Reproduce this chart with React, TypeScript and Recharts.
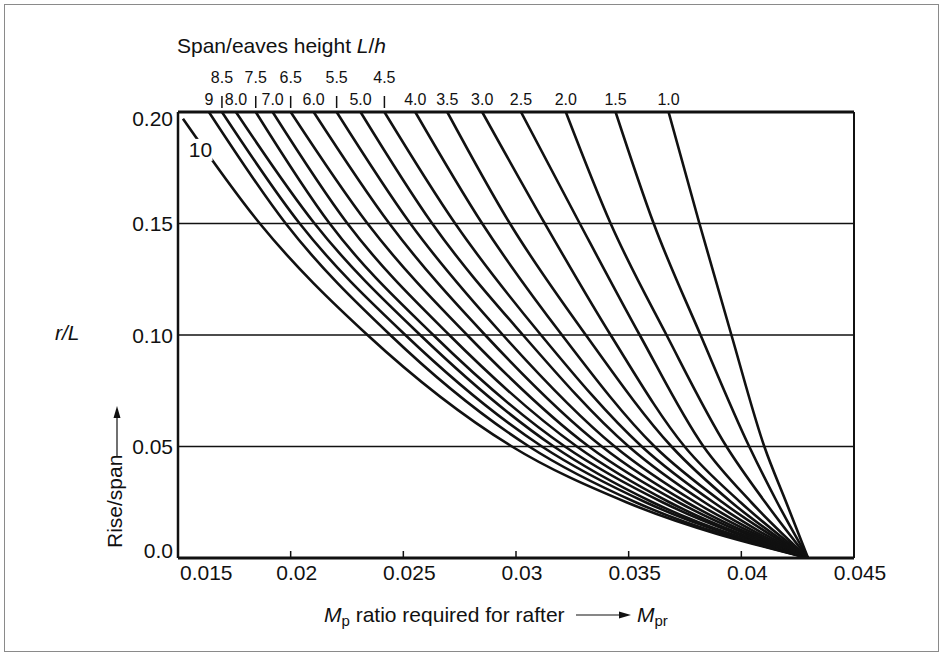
import React from 'react';
import { LineChart, Line, XAxis, YAxis, CartesianGrid, ReferenceLine, ReferenceDot } from 'recharts';

const FONT = '"Liberation Sans", Arial, Helvetica, sans-serif';
const INK = '#111';

// rise/span levels (r/L) at which the curves were read
const RISE = [0.2, 0.15, 0.1, 0.05, 0.025, 0];
// the L/h = 10 curve starts on the left axis, just below 0.20
const RISE_10 = [0.197, 0.15, 0.1, 0.05, 0.025, 0];

const LH_LABELS = ['10', '9', '8.5', '8.0', '7.5', '7.0', '6.5', '6.0', '5.5', '5.0', '4.5', '4.0', '3.5', '3.0', '2.5', '2.0', '1.5', '1.0'];
const UPPER_ROW = ['8.5', '7.5', '6.5', '5.5', '4.5'];

// Mp ratio required for rafter, one array per span/eaves height
const MP_10 = [0.01522, 0.01863, 0.02341, 0.02982, 0.0349, 0.04296];
const MP_9 = [0.01637, 0.01978, 0.02442, 0.03058, 0.03531, 0.04296];
const MP_85 = [0.01695, 0.0204, 0.02509, 0.03115, 0.03575, 0.04296];
const MP_80 = [0.01757, 0.02106, 0.02575, 0.03168, 0.03606, 0.04296];
const MP_75 = [0.01845, 0.02173, 0.02633, 0.03217, 0.0365, 0.04296];
const MP_70 = [0.0192, 0.02252, 0.02704, 0.0327, 0.03681, 0.04296];
const MP_65 = [0.02, 0.02341, 0.02783, 0.03323, 0.03721, 0.04296];
const MP_60 = [0.02102, 0.02438, 0.02863, 0.03381, 0.03757, 0.04296];
const MP_55 = [0.02204, 0.02531, 0.02942, 0.03438, 0.03796, 0.04296];
const MP_50 = [0.0231, 0.02628, 0.03031, 0.035, 0.03836, 0.04296];
const MP_45 = [0.02416, 0.0273, 0.03111, 0.03558, 0.03876, 0.04296];
const MP_40 = [0.02553, 0.0285, 0.03204, 0.03615, 0.03916, 0.04296];
const MP_35 = [0.02695, 0.02973, 0.0331, 0.0369, 0.03956, 0.04296];
const MP_30 = [0.0285, 0.03128, 0.0342, 0.03748, 0.03996, 0.04296];
const MP_25 = [0.03022, 0.03283, 0.03549, 0.03832, 0.04044, 0.04296];
const MP_20 = [0.03221, 0.0342, 0.03668, 0.03934, 0.04106, 0.04296];
const MP_15 = [0.03442, 0.03611, 0.03819, 0.04035, 0.04159, 0.04296];
const MP_10_0 = [0.03677, 0.03814, 0.03956, 0.04102, 0.04199, 0.04296];

const MP_BY_LH = [MP_10, MP_9, MP_85, MP_80, MP_75, MP_70, MP_65, MP_60, MP_55, MP_50, MP_45, MP_40, MP_35, MP_30, MP_25, MP_20, MP_15, MP_10_0];

const X_TICKS = [0.015, 0.02, 0.025, 0.03, 0.035, 0.04, 0.045];
const X_TICK_LABELS = ['0.015', '0.02', '0.025', '0.03', '0.035', '0.04', '0.045'];
const Y_TICKS = [0, 0.05, 0.1, 0.15, 0.2];
const Y_TICK_LABELS = ['0.0', '0.05', '0.10', '0.15', '0.20'];

const curves = LH_LABELS.map((lh, i) => ({
  lh,
  points: MP_BY_LH[i].map((x, j) => ({ x, y: (i === 0 ? RISE_10 : RISE)[j] })),
}));

// top scale: one tick per curve where it leaves the 0.20 line (10 is labelled inside)
const TOP_TICKS = MP_BY_LH.slice(1).map((arr) => arr[0]);
const TOP_LABELS = LH_LABELS.slice(1);
const topPoints = TOP_TICKS.map((x) => ({ x, y: 0.2 }));

const BottomTick = (props: any) => {
  const { x, y, payload } = props;
  const i = X_TICKS.indexOf(payload.value);
  const first = i === 0;
  const last = i === X_TICKS.length - 1;
  return (
    <g>
      {!first && !last && <line x1={x} x2={x} y1={y} y2={y - 7} stroke={INK} strokeWidth={1.5} />}
      <text x={first ? x + 2 : x + 6} y={y + 22} textAnchor={first ? 'start' : 'middle'} fontSize={21} fontFamily={FONT} fill={INK}>
        {X_TICK_LABELS[i]}
      </text>
    </g>
  );
};

const LeftTick = (props: any) => {
  const { x, y, payload } = props;
  const i = Y_TICKS.indexOf(payload.value);
  let dy = 7.5;
  if (i === 0) dy = -0.5;
  if (i === Y_TICKS.length - 1) dy = 14;
  return (
    <text x={x - 5} y={y + dy} textAnchor="end" fontSize={21} fontFamily={FONT} fill={INK}>
      {Y_TICK_LABELS[i]}
    </text>
  );
};

const TopTick = (props: any) => {
  const { x, y, payload } = props;
  let i = TOP_TICKS.indexOf(payload.value);
  if (i < 0) i = props.index;
  const label = TOP_LABELS[i];
  if (UPPER_ROW.includes(label)) {
    return (
      <g>
        <line x1={x} x2={x} y1={y - 16} y2={y - 4} stroke={INK} strokeWidth={1.5} />
        <text x={x} y={y - 29} textAnchor="middle" fontSize={16} fontFamily={FONT} fill={INK}>{label}</text>
      </g>
    );
  }
  return (
    <text x={x} y={y - 7.5} textAnchor="middle" fontSize={16} fontFamily={FONT} fill={INK}>{label}</text>
  );
};

const TenLabel = (p: any) => (
  <g>
    <rect x={p.cx - 12} y={p.cy - 11} width={24} height={22} fill="#fff" />
    <text x={p.cx} y={p.cy + 7.5} textAnchor="middle" fontSize={21} fontFamily={FONT} fill={INK}>10</text>
  </g>
);

export default function App() {
  return (
    <div style={{ position: 'absolute', left: 0, top: 0, width: 943, height: 656, background: '#fff' }}>
      <LineChart width={943} height={656} margin={{ top: 0, right: 89, bottom: 0, left: 0 }}>
        <CartesianGrid vertical={false} stroke={INK} strokeWidth={1.6} />
        <XAxis
          type="number"
          dataKey="x"
          domain={[0.015, 0.045]}
          allowDataOverflow
          ticks={X_TICKS}
          interval={0}
          height={98}
          tickSize={0}
          tickMargin={0}
          tickLine={false}
          tick={<BottomTick />}
          axisLine={{ stroke: INK, strokeWidth: 3 }}
        />
        <XAxis
          xAxisId="top"
          orientation="top"
          type="number"
          dataKey="x"
          domain={[0.015, 0.045]}
          allowDataOverflow
          ticks={TOP_TICKS}
          interval={0}
          height={112}
          tickSize={0}
          tickMargin={0}
          tickLine={false}
          tick={<TopTick />}
          axisLine={{ stroke: INK, strokeWidth: 3 }}
        />
        <YAxis
          type="number"
          dataKey="y"
          domain={[0, 0.2]}
          allowDataOverflow
          ticks={Y_TICKS}
          interval={0}
          width={178}
          tickSize={0}
          tickMargin={0}
          tickLine={false}
          tick={<LeftTick />}
          axisLine={{ stroke: INK, strokeWidth: 2.5 }}
        />
        <ReferenceLine x={0.045} stroke={INK} strokeWidth={2} />
        <Line
          xAxisId="top"
          data={topPoints}
          dataKey="y"
          stroke="none"
          dot={false}
          legendType="none"
          isAnimationActive={false}
        />
        {curves.map((c) => (
          <Line
            key={c.lh}
            data={c.points}
            dataKey="y"
            type="monotone"
            stroke={INK}
            strokeWidth={2.6}
            dot={false}
            isAnimationActive={false}
          />
        ))}
        <ReferenceDot x={0.016} y={0.183} r={0} shape={TenLabel} />
      </LineChart>

      <svg width={943} height={656} style={{ position: 'absolute', left: 0, top: 0, pointerEvents: 'none' }}>
        <rect x={4.5} y={4.5} width={934} height={647} fill="none" stroke="#8a8a8a" strokeWidth={1} />
        <text x={177} y={52.5} fontSize={21} fontFamily={FONT} fill={INK}>
          Span/eaves height <tspan fontStyle="italic">L</tspan>/<tspan fontStyle="italic">h</tspan>
        </text>
        <text x={55} y={339.5} fontSize={21} fontFamily={FONT} fill={INK} fontStyle="italic">r/L</text>
        <text x={122} y={548} fontSize={21} fontFamily={FONT} fill={INK} transform="rotate(-90 122 548)">Rise/span</text>
        <line x1={117} x2={117} y1={456} y2={416} stroke={INK} strokeWidth={1.2} />
        <polygon points="117,406 113.5,418 120.5,418" fill={INK} />
        <text x={324} y={622} fontSize={21} fontFamily={FONT} fill={INK}>
          <tspan fontStyle="italic">M</tspan>
          <tspan fontSize={15} dy={4}>p</tspan>
          <tspan dy={-4}> ratio required for rafter</tspan>
        </text>
        <line x1={576} x2={622} y1={615} y2={615} stroke={INK} strokeWidth={1.2} />
        <polygon points="631,615 619,611.5 619,618.5" fill={INK} />
        <text x={637} y={622} fontSize={21} fontFamily={FONT} fill={INK}>
          <tspan fontStyle="italic">M</tspan>
          <tspan fontSize={15} dy={4}>pr</tspan>
        </text>
      </svg>
    </div>
  );
}
